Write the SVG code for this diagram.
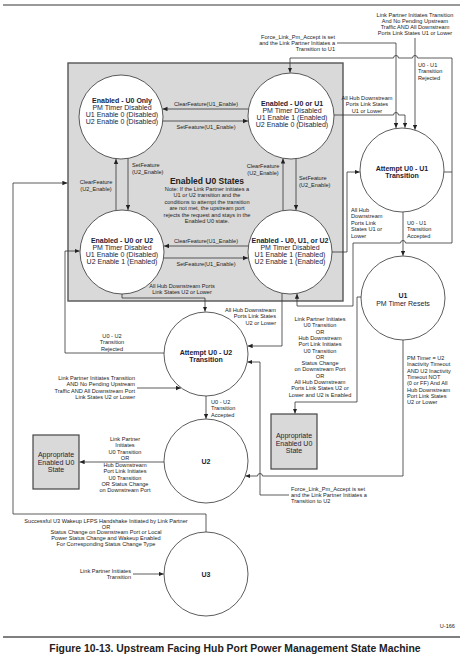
<svg xmlns="http://www.w3.org/2000/svg" width="464" height="656" viewBox="0 0 464 656">
<style>
.ln{fill:none;stroke:#333;stroke-width:0.8}
.st{fill:#fff;stroke:#333;stroke-width:0.8}
.bx{fill:#d9d9d9;stroke:#444;stroke-width:1.2}
text{font-family:"Liberation Sans",Arial,sans-serif;fill:#222}
.s{font-size:5.6px}
.n{font-size:7px;fill:#1c1c38}
.b{font-weight:bold}
.m{text-anchor:middle}
.e{text-anchor:end}
</style>
<defs>
<marker id="ah" markerUnits="userSpaceOnUse" markerWidth="6" markerHeight="5" refX="5" refY="2.2" orient="auto">
<path d="M0,0 L5,2.2 L0,4.4 z" fill="#222"/>
</marker>
</defs>
<rect width="464" height="656" fill="#fff"/>
<line x1="3" y1="5" x2="460" y2="5" stroke="#777" stroke-width="1.5"/>
<line x1="3" y1="637" x2="460" y2="637" stroke="#555" stroke-width="1.5"/>

<g id="enabled-u0-states">
<rect x="68" y="63" width="275" height="238" fill="#d9d9d9" stroke="#555" stroke-width="1.4"/>
<text class="b m" x="207" y="184" font-size="8.5px">Enabled U0 States</text>
<text class="s m" x="207" y="190.5">Note:  If the Link Partner initiates a</text>
<text class="s m" x="207" y="197">U1 or U2 transition and the</text>
<text class="s m" x="207" y="203.6">conditions to attempt the transition</text>
<text class="s m" x="207" y="210.2">are not met, the upstream port</text>
<text class="s m" x="207" y="216.8">rejects the request and stays in the</text>
<text class="s m" x="207" y="223.4">Enabled U0 state.</text>
</g>

<g id="connectors">
<path class="ln" d="M248.6,109 H162.5" marker-end="url(#ah)"/>
<text class="s m" x="206" y="105.5">ClearFeature(U1_Enable)</text>
<path class="ln" d="M162.8,121 H248" marker-end="url(#ah)"/>
<text class="s m" x="206" y="129">SetFeature(U1_Enable)</text>
<path class="ln" d="M116,210.4 V159" marker-end="url(#ah)"/>
<text class="s m" x="96" y="184">ClearFeature</text>
<text class="s m" x="96" y="190.5">(U2_Enable)</text>
<path class="ln" d="M128,158.4 V210" marker-end="url(#ah)"/>
<text class="s" x="132" y="167">SetFeature</text>
<text class="s" x="132" y="173.5">(U2_Enable)</text>
<path class="ln" d="M283,210.6 V158.5" marker-end="url(#ah)"/>
<text class="s m" x="263" y="168">ClearFeature</text>
<text class="s m" x="263" y="174.5">(U2_Enable)</text>
<path class="ln" d="M296,158.7 V210" marker-end="url(#ah)"/>
<text class="s" x="299" y="180">SetFeature</text>
<text class="s" x="299" y="186.5">(U2_Enable)</text>
<path class="ln" d="M248.4,246 H164" marker-end="url(#ah)"/>
<text class="s m" x="206" y="242.5">ClearFeature(U1_Enable)</text>
<path class="ln" d="M163.6,258 H248" marker-end="url(#ah)"/>
<text class="s m" x="206" y="266">SetFeature(U1_Enable)</text>
<path class="ln" d="M122,294 V298 H205 V311.6" marker-end="url(#ah)"/>
<text class="s m" x="182" y="288">All Hub Downstream Ports</text>
<text class="s m" x="182" y="294.3">Link States U2 or Lower</text>
<path class="ln" d="M282,293.2 V346 H247.6" marker-end="url(#ah)"/>
<text class="s e" x="276" y="312">All Hub Downstream</text>
<text class="s e" x="276" y="318.4">Ports Link States</text>
<text class="s e" x="276" y="324.8">U2 or Lower</text>

<path class="ln" d="M337,43 H396 V128" marker-end="url(#ah)"/>
<text class="s e" x="335" y="38.5">Force_Link_Pm_Accept is set</text>
<text class="s e" x="335" y="44.7">and the Link Partner Initiates a</text>
<text class="s e" x="335" y="50.9">Transition to U1</text>
<path class="ln" d="M415,38 V129.8" marker-end="url(#ah)"/>
<text class="s m" x="415" y="16.5">Link Partner Initiates Transition</text>
<text class="s m" x="415" y="22.8">And No Pending Upstream</text>
<text class="s m" x="415" y="29.1">Traffic AND All Downstream</text>
<text class="s m" x="415" y="35.4">Ports Link States U1 or Lower</text>
<path class="ln" d="M334,115 H393.5 a2.5,2.5 0 0 1 5,0 H405 V127.8" marker-end="url(#ah)"/>
<text class="s m" x="367" y="100">All Hub Downstream</text>
<text class="s m" x="367" y="106.3">Ports Link States</text>
<text class="s m" x="367" y="112.6">U1 or Lower</text>
<path class="ln" d="M332,252 H347 V172 H359.8" marker-end="url(#ah)"/>
<text class="s" x="351" y="212">All Hub</text>
<text class="s" x="351" y="218.4">Downstream</text>
<text class="s" x="351" y="224.8">Ports Link</text>
<text class="s" x="351" y="231.2">States U1 or</text>
<text class="s" x="351" y="237.6">Lower</text>
<path class="ln" d="M444,172 H452 V58 H417.5 a2.5,2.5 0 0 0 -5,0 H398.5 a2.5,2.5 0 0 0 -5,0 H290 V72.6" marker-end="url(#ah)"/>
<path class="ln" d="M452,172 V243 H405.5 a2.5,2.5 0 0 0 -5,0 H353 V306 H297 V293.8" marker-end="url(#ah)"/>
<text class="s" x="418" y="67">U0 - U1</text>
<text class="s" x="418" y="73.4">Transition</text>
<text class="s" x="418" y="79.8">Rejected</text>
<path class="ln" d="M403,212 V255.8" marker-end="url(#ah)"/>
<text class="s" x="407" y="225">U0 - U1</text>
<text class="s" x="407" y="231.4">Transition</text>
<text class="s" x="407" y="237.8">Accepted</text>
<path class="ln" d="M361,297 H357 V402 H295 V413.6" marker-end="url(#ah)"/>
<text class="s m" x="320" y="321">Link Partner Initiates</text>
<text class="s m" x="320" y="327.3">U0 Transition</text>
<text class="s m" x="320" y="333.6">OR</text>
<text class="s m" x="320" y="339.9">Hub Downstream</text>
<text class="s m" x="320" y="346.2">Port Link Initiates</text>
<text class="s m" x="320" y="352.5">U0 Transition</text>
<text class="s m" x="320" y="358.8">OR</text>
<text class="s m" x="320" y="365.1">Status Change</text>
<text class="s m" x="320" y="371.4">on Downstream Port</text>
<text class="s m" x="320" y="377.7">OR</text>
<text class="s m" x="320" y="384">All Hub Downstream</text>
<text class="s m" x="320" y="390.3">Ports Link States U2 or</text>
<text class="s m" x="320" y="396.6">Lower and U2 is Enabled</text>
<path class="ln" d="M403,340 V476 H262.5 a2.5,2.5 0 0 0 -5,0 H245.4" marker-end="url(#ah)"/>
<text class="s" x="407" y="360">PM Timer = U2</text>
<text class="s" x="407" y="366.3">Inactivity Timeout</text>
<text class="s" x="407" y="372.6">AND U2 Inactivity</text>
<text class="s" x="407" y="378.9">Timeout NOT</text>
<text class="s" x="407" y="385.2">(0 or FF) And All</text>
<text class="s" x="407" y="391.5">Hub Downstream</text>
<text class="s" x="407" y="397.8">Port Link States</text>
<text class="s" x="407" y="404.1">U2 or Lower</text>
<path class="ln" d="M289,495 H260 V362 H247.4" marker-end="url(#ah)"/>
<text class="s" x="291" y="491">Force_Link_Pm_Accept is set</text>
<text class="s" x="291" y="497.2">and the Link Partner Initiates a</text>
<text class="s" x="291" y="503.4">Transition to U2</text>
<path class="ln" d="M206,396 V418.8" marker-end="url(#ah)"/>
<text class="s" x="211" y="404">U0 - U2</text>
<text class="s" x="211" y="410.4">Transition</text>
<text class="s" x="211" y="416.8">Accepted</text>
<path class="ln" d="M164,353 H65 V251 H79.6" marker-end="url(#ah)"/>
<text class="s m" x="112" y="337.5">U0 - U2</text>
<text class="s m" x="112" y="344">Transition</text>
<text class="s m" x="112" y="350.5">Rejected</text>
<path class="ln" d="M137,388 H181" marker-end="url(#ah)"/>
<text class="s e" x="135" y="380">Link Partner Initiates Transition</text>
<text class="s e" x="135" y="386.4">AND No Pending Upstream</text>
<text class="s e" x="135" y="392.8">Traffic AND All Downstream Port</text>
<text class="s e" x="135" y="399.2">Link States U2 or Lower</text>
<path class="ln" d="M164,462 H79.6" marker-end="url(#ah)"/>
<text class="s m" x="125" y="441">Link Partner</text>
<text class="s m" x="125" y="447.4">Initiates</text>
<text class="s m" x="125" y="453.8">U0 Transition</text>
<text class="s m" x="125" y="460">OR</text>
<text class="s m" x="125" y="467">Hub Downstream</text>
<text class="s m" x="125" y="473.3">Port Link Initiates</text>
<text class="s m" x="125" y="479.6">U0 Transition</text>
<text class="s m" x="125" y="485.9">OR Status Change</text>
<text class="s m" x="125" y="492.2">on Downstream Port</text>
<path class="ln" d="M206,532 V514 H13 V183 H67.4" marker-end="url(#ah)"/>
<text class="s m" x="106" y="522.7">Successful U3 Wakeup LFPS Handshake Initiated by Link Partner</text>
<text class="s m" x="106" y="528.5">OR</text>
<text class="s m" x="106" y="534.3">Status Change on Downstream Port or Local</text>
<text class="s m" x="106" y="540.3">Power Status Change and Wakeup Enabled</text>
<text class="s m" x="106" y="546.3">For Corresponding Status Change Type</text>
<path class="ln" d="M133,574 H163.8" marker-end="url(#ah)"/>
<text class="s e" x="131" y="573">Link Partner Initiates</text>
<text class="s e" x="131" y="579.3">Transition</text>
</g>

<g id="u0-only">
<circle class="st" cx="121" cy="117" r="42"/>
<text class="n b m" x="122" y="102.5">Enabled - U0 Only</text>
<text class="n m" x="122" y="109.5">PM Timer Disabled</text>
<text class="n m" x="122" y="116.5">U1 Enable 0 (Disabled)</text>
<text class="n m" x="122" y="123.5">U2 Enable 0 (Disabled)</text>
</g>
<g id="u0-or-u1">
<circle class="st" cx="291" cy="116" r="43"/>
<text class="n b m" x="292" y="105.5">Enabled - U0 or U1</text>
<text class="n m" x="292" y="112.5">PM Timer Disabled</text>
<text class="n m" x="292" y="119.5">U1 Enable 1 (Enabled)</text>
<text class="n m" x="292" y="126.5">U2 Enable 0 (Disabled)</text>
</g>
<g id="u0-or-u2">
<circle class="st" cx="122" cy="252" r="42"/>
<text class="n b m" x="122" y="242.5">Enabled - U0 or U2</text>
<text class="n m" x="122" y="249.5">PM Timer Disabled</text>
<text class="n m" x="122" y="256.5">U1 Enable 0 (Disabled)</text>
<text class="n m" x="122" y="263.5">U2 Enable 1 (Enabled)</text>
</g>
<g id="u0-u1-u2">
<circle class="st" cx="290" cy="252" r="42"/>
<text class="n b m" x="290" y="242.5">Enabled - U0, U1, or U2</text>
<text class="n m" x="290" y="249.5">PM Timer Disabled</text>
<text class="n m" x="290" y="257">U1 Enable 1 (Enabled)</text>
<text class="n m" x="290" y="264">U2 Enable 1 (Enabled)</text>
</g>
<g id="attempt-u0-u1">
<circle class="st" cx="402" cy="170" r="42"/>
<text class="n b m" x="402" y="170.5">Attempt U0 - U1</text>
<text class="n b m" x="402" y="177.5">Transition</text>
</g>
<g id="u1">
<circle class="st" cx="403" cy="298" r="42"/>
<text class="n b m" x="403" y="297.5">U1</text>
<text class="n m" x="403" y="305.5">PM Timer Resets</text>
</g>
<g id="attempt-u0-u2">
<circle class="st" cx="206" cy="354" r="42"/>
<text class="n b m" x="206" y="354.5">Attempt U0 - U2</text>
<text class="n b m" x="206" y="361.5">Transition</text>
</g>
<g id="u2">
<circle class="st" cx="206" cy="461" r="42"/>
<text class="n b m" x="206" y="463.5">U2</text>
</g>
<g id="u3">
<circle class="st" cx="206" cy="574" r="42"/>
<text class="n b m" x="206" y="576.5">U3</text>
</g>
<g id="appropriate-left">
<rect class="bx" x="33" y="435" width="46" height="54"/>
<text class="n m" x="56" y="457">Appropriate</text>
<text class="n m" x="56" y="464.5">Enabled U0</text>
<text class="n m" x="56" y="472">State</text>
</g>
<g id="appropriate-right">
<rect class="bx" x="271" y="414" width="46" height="55"/>
<text class="n m" x="294" y="438">Appropriate</text>
<text class="n m" x="294" y="445.5">Enabled U0</text>
<text class="n m" x="294" y="453">State</text>
</g>

<text class="s e" x="455" y="628">U-166</text>
<text class="b m" x="235" y="651.5" font-size="10.4px">Figure 10-13.  Upstream Facing Hub Port Power Management State Machine</text>
</svg>
